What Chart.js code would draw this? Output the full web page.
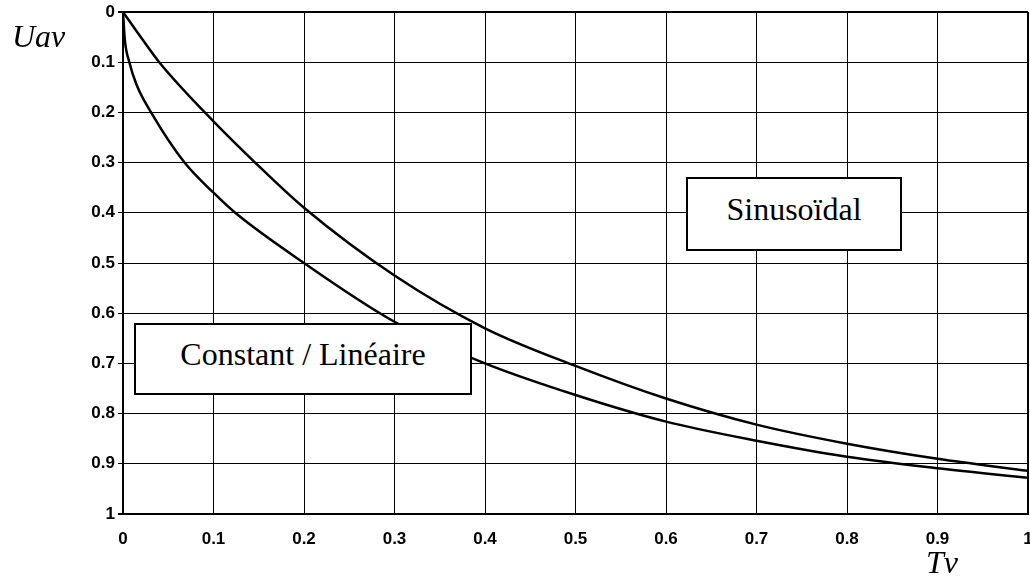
<!DOCTYPE html>
<html>
<head>
<meta charset="utf-8">
<script src="https://cdn.jsdelivr.net/npm/chart.js@4/dist/chart.umd.min.js"></script>
<style>
  body { margin: 0; background: #fff; }
  #wrap { position: relative; width: 1030px; height: 576px; }
  .note {
    position: absolute; box-sizing: border-box; border: 2px solid #000; background: #fff;
    font-family: "Liberation Serif", "Times New Roman", serif; font-size: 32px;
    display: flex; align-items: center; justify-content: center; padding-bottom: 10px;
  }
  .axt { position: absolute; font-family: "Liberation Serif", serif; font-style: italic; font-size: 32px; line-height: 1; }
</style>
</head>
<body>
<div id="wrap">
  <canvas id="chart" width="1030" height="576"></canvas>
  <div class="axt" style="left:12px;top:20px;">Uav</div>
  <div class="axt" style="left:926px;top:546px;">Tv</div>
  <div class="note" style="left:686px;top:177px;width:216px;height:74px;">Sinusoïdal</div>
  <div class="note" style="left:134px;top:323px;width:338px;height:72px;">Constant / Linéaire</div>
</div>
<script>
// values
const sinX = [0, 0.02, 0.04, 0.1, 0.146, 0.2, 0.3, 0.4, 0.5, 0.6, 0.7, 0.8, 0.9, 1.0];
const sinY = [0, 0.051, 0.1, 0.218, 0.3, 0.39, 0.525, 0.63, 0.705, 0.77, 0.822, 0.86, 0.89, 0.914];
const constX = [0, 0.002, 0.007, 0.015, 0.031, 0.068, 0.1, 0.124, 0.2, 0.3, 0.4, 0.5, 0.6, 0.7, 0.8, 0.9, 1.0];
const constY = [0, 0.055, 0.1, 0.145, 0.2, 0.3, 0.36, 0.4, 0.5, 0.617, 0.7, 0.763, 0.816, 0.854, 0.886, 0.909, 0.928];

const toPoints = (xs, ys) => xs.map((x, i) => ({ x: x, y: ys[i] }));
const fmt = v => String(Math.round(v * 10) / 10);
const edgeWidth = c => (c.tick && (Math.abs(c.tick.value) < 1e-6 || Math.abs(c.tick.value - 1) < 1e-6)) ? 2 : 1;

new Chart(document.getElementById('chart').getContext('2d'), {
  type: 'line',
  data: {
    datasets: [{
      label: 'Sinusoïdal',
      data: toPoints(sinX, sinY),
      borderColor: '#000',
      borderWidth: 2.5,
      pointRadius: 0,
      cubicInterpolationMode: 'monotone'
    }, {
      label: 'Constant / Linéaire',
      data: toPoints(constX, constY),
      borderColor: '#000',
      borderWidth: 2.5,
      pointRadius: 0,
      cubicInterpolationMode: 'monotone'
    }]
  },
  options: {
    responsive: false,
    animation: false,
    layout: { padding: { top: 12, right: 2, left: 0, bottom: 0 } },
    plugins: { legend: { display: false }, tooltip: { enabled: false } },
    scales: {
      x: {
        type: 'linear', min: 0, max: 1,
        grid: { color: '#000', lineWidth: edgeWidth, tickLength: 0 },
        border: { color: '#000', width: 2 },
        ticks: {
          stepSize: 0.1, padding: 15, color: '#000',
          font: { family: '"Liberation Sans", Arial, sans-serif', size: 17, weight: 'bold' },
          callback: fmt
        },
        afterFit: s => { s.height = 62; s.paddingLeft = 0; s.paddingRight = 0; }
      },
      y: {
        type: 'linear', min: 0, max: 1, reverse: true,
        grid: { color: '#000', lineWidth: edgeWidth, tickLength: 5 },
        border: { color: '#000', width: 2 },
        ticks: {
          stepSize: 0.1, padding: 3, color: '#000',
          font: { family: '"Liberation Sans", Arial, sans-serif', size: 17, weight: 'bold' },
          callback: fmt
        },
        afterFit: s => { s.width = 123; s.paddingTop = 0; s.paddingBottom = 0; }
      }
    }
  }
});
</script>
</body>
</html>
